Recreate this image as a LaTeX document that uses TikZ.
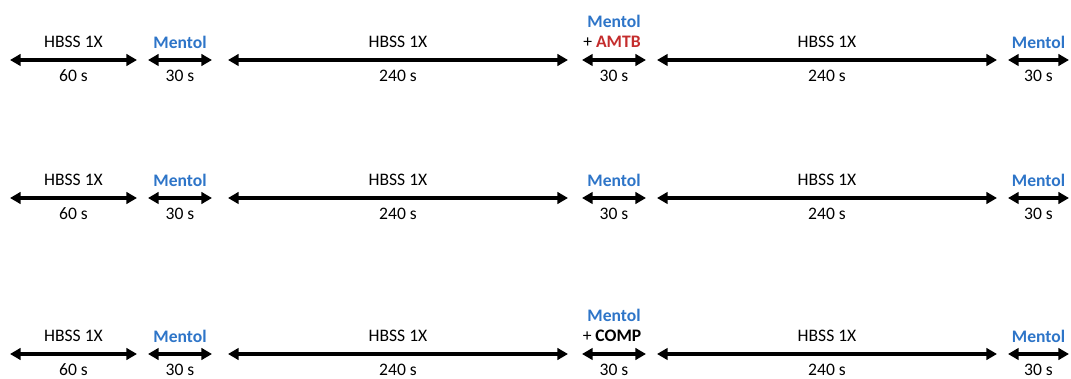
\documentclass[tikz,border=0pt]{standalone}
\usepackage{fontspec}
\setmainfont{Carlito}
\usepackage{xcolor}
\usetikzlibrary{arrows.meta}
\definecolor{mentolblue}{RGB}{46,117,200}
\definecolor{amtbred}{RGB}{196,45,45}
\tikzstyle{span}=[line width=2.1pt, {Triangle[length=6pt,width=6.5pt]}-{Triangle[length=6pt,width=6.5pt]}]
\tikzstyle{lbl}=[inner sep=0pt, font=\fontsize{10}{12}\selectfont]
\newcommand{\mentol}{\textcolor{mentolblue}{\textbf{Mentol}}}

\begin{document}
\begin{tikzpicture}
        \useasboundingbox (0,0) rectangle (21.42,7.56);
        % same timeline for the three runs
        \foreach \y/\r in {6.36/a, 3.6/b, 0.48/c} {
            \foreach \xa/\xb/\txt/\dur [count=\i] in {0.2/2.74/HBSS 1X/60 s, 2.96/4.24/\mentol/30 s, 4.56/11.36/HBSS 1X/240 s, 11.64/12.92/-/30 s, 13.14/19.94/HBSS 1X/240 s, 20.16/21.38/\mentol/30 s} {
                \coordinate (\r\i s) at (\xa,\y);
                \coordinate (\r\i e) at (\xb,\y);
                \draw[span] (\r\i s) -- (\r\i e);
                \node[lbl] (\r\i d) at ({(\xa+\xb)/2},{\y-0.31}) {\dur};
                \ifnum\i=4\else
                    \node[lbl] (\r\i t) at ({(\xa+\xb)/2},{\y+0.36}) {\txt};
                \fi
            }
        }

        % run 1: Mentol + AMTB
        \node[lbl] (a4m) at (12.28,7.14) {\mentol};
        \node[lbl] (a4t) at (12.24,6.72) {+ \textcolor{amtbred}{\textbf{AMTB}}};

        % run 2: Mentol only
        \node[lbl] (b4t) at (12.28,3.96) {\mentol};

        % run 3: Mentol + COMP
        \node[lbl] (c4m) at (12.28,1.26) {\mentol};
        \node[lbl] (c4t) at (12.24,0.84) {+ \textbf{COMP}};
\end{tikzpicture}
\end{document}
